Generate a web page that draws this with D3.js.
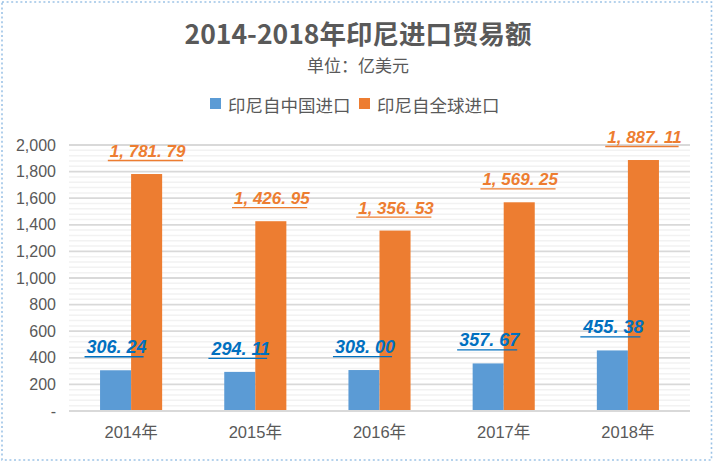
<!DOCTYPE html>
<html>
<head>
<meta charset="utf-8">
<script src="https://cdn.jsdelivr.net/npm/d3@7"></script>
<style>
  html, body { margin: 0; padding: 0; background: #fff; }
  svg { display: block; }
</style>
</head>
<body>
<svg id="chart" width="716" height="464"></svg>
<script>
const years = ["2014年", "2015年", "2016年", "2017年", "2018年"];
const seriesNames = ["印尼自中国进口", "印尼自全球进口"];
const chinaImports = [306.24, 294.11, 308.00, 357.67, 455.38];
const globalImports = [1781.79, 1426.95, 1356.53, 1569.25, 1887.11];
const yTickValues = [0, 200, 400, 600, 800, 1000, 1200, 1400, 1600, 1800, 2000];
const yTickLabels = ["-", "200", "400", "600", "800", "1,000", "1,200", "1,400", "1,600", "1,800", "2,000"];
const titleText = "2014-2018年印尼进口贸易额";
const subtitleText = "单位：亿美元";

const barColors = ["#5B9BD5", "#ED7D31"];
const labelColors = ["#0070C0", "#ED7D31"];
const textGrey = "#595959";
const cjk = "'Noto Sans CJK SC', 'Liberation Sans', sans-serif";
const latin = "'Liberation Sans', 'Noto Sans CJK SC', sans-serif";

const svg = d3.select("#chart");

// background + dotted border
svg.append("rect").attr("x", 0).attr("y", 0).attr("width", 716).attr("height", 464).attr("fill", "#fff");
svg.append("rect")
  .attr("x", 2).attr("y", 2).attr("width", 709.5).attr("height", 458)
  .attr("fill", "none").attr("stroke", "#9DC3E6").attr("stroke-width", 1.6)
  .attr("stroke-dasharray", "2,2.6");

const plotLeft = 69, plotRight = 690, plotTop = 145, plotBottom = 411;

const y = d3.scaleLinear().domain([0, 2000]).range([plotBottom, plotTop]);
const x = d3.scaleBand().domain(years).range([plotLeft, plotRight]).paddingInner(0.5).paddingOuter(0.25);
const xs = d3.scaleBand().domain([0, 1]).range([0, x.bandwidth()]).padding(0);

// minor gridlines
const minorTicks = d3.range(40, 2000, 40).filter(v => v % 200 !== 0);
svg.append("g").selectAll("line").data(minorTicks).join("line")
  .attr("x1", plotLeft).attr("x2", plotRight)
  .attr("y1", d => y(d)).attr("y2", d => y(d))
  .attr("stroke", "#F2F2F2").attr("stroke-width", 1.5);

// major gridlines
svg.append("g").selectAll("line").data(yTickValues).join("line")
  .attr("x1", plotLeft).attr("x2", plotRight)
  .attr("y1", d => y(d)).attr("y2", d => y(d))
  .attr("stroke", "#D9D9D9").attr("stroke-width", 1.8);

// y axis labels
const yAxis = d3.axisLeft(y).tickValues(yTickValues)
  .tickFormat((d, i) => yTickLabels[i]).tickSize(0).tickPadding(13);
const yG = svg.append("g").attr("transform", `translate(${plotLeft},0)`).call(yAxis);
yG.select(".domain").remove();
yG.selectAll("text").attr("fill", textGrey).style("font-family", latin).style("font-size", "16px");

// x axis labels
const xAxis = d3.axisBottom(x).tickSize(0).tickPadding(15);
const xG = svg.append("g").attr("transform", `translate(0,${plotBottom})`).call(xAxis);
xG.select(".domain").remove();
xG.selectAll("text").attr("fill", textGrey).style("font-family", latin).style("font-size", "16.5px");

// bars
const series = [chinaImports, globalImports];
series.forEach((vals, si) => {
  svg.append("g").selectAll("rect").data(vals).join("rect")
    .attr("x", (d, i) => x(years[i]) + xs(si))
    .attr("width", xs.bandwidth())
    .attr("y", d => y(d))
    .attr("height", d => y(0) - y(d))
    .attr("fill", barColors[si]);
});

// baseline
svg.append("line").attr("x1", plotLeft).attr("x2", plotRight)
  .attr("y1", y(0)).attr("y2", y(0)).attr("stroke", "#D9D9D9").attr("stroke-width", 2);

// data labels
const fmt = d3.format(",.2f");
const display = v => fmt(v).replace(/,/g, ", ").replace(/\./g, ". ");
series.forEach((vals, si) => {
  const g = svg.append("g");
  vals.forEach((v, i) => {
    const cx = x(years[i]) + xs(si) + xs.bandwidth() / 2 + 1;
    const t = g.append("text")
      .attr("x", cx).attr("y", y(v) - 17)
      .attr("text-anchor", "middle")
      .attr("fill", labelColors[si])
      .style("font-family", latin).style("font-size", si === 0 ? "18px" : "17px")
      .style("font-style", "italic").style("font-weight", "bold")
      .text(display(v));
    const bb = t.node().getBBox();
    g.append("line")
      .attr("x1", bb.x - 2).attr("x2", bb.x + bb.width - 3)
      .attr("y1", y(v) - 13.5).attr("y2", y(v) - 13.5)
      .attr("stroke", labelColors[si]).attr("stroke-width", 1.3);
  });
});

// title
svg.append("text").attr("x", 358).attr("y", 32)
  .attr("text-anchor", "middle").attr("dominant-baseline", "central")
  .attr("fill", textGrey).style("font-family", cjk)
  .style("font-size", "26.5px").style("font-weight", "bold")
  .text(titleText);
svg.append("text").attr("x", 358).attr("y", 64)
  .attr("text-anchor", "middle").attr("dominant-baseline", "central")
  .attr("fill", textGrey).style("font-family", cjk)
  .style("font-size", "17px")
  .text(subtitleText);

// legend
const legendItems = [
  { name: seriesNames[0], color: barColors[0], sx: 210, tx: 228 },
  { name: seriesNames[1], color: barColors[1], sx: 359, tx: 377 }
];
const lg = svg.append("g");
legendItems.forEach(it => {
  lg.append("rect").attr("x", it.sx).attr("y", 98).attr("width", 11).attr("height", 11).attr("fill", it.color);
  lg.append("text").attr("x", it.tx).attr("y", 104)
    .attr("dominant-baseline", "central").attr("fill", textGrey)
    .style("font-family", cjk).style("font-size", "17.5px")
    .text(it.name);
});
</script>
</body>
</html>
